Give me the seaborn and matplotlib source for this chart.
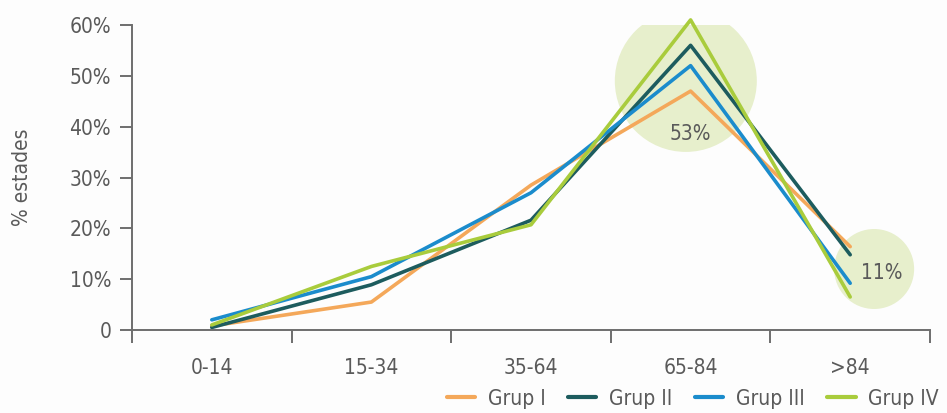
import matplotlib
matplotlib.use("Agg")
import matplotlib.pyplot as plt
from matplotlib.patches import Ellipse
from matplotlib.ticker import FixedLocator
import seaborn as sns
import pandas as pd

# Age bands and share of stays (%) per group
age_bands = ["0-14", "15-34", "35-64", "65-84", ">84"]
grup_i = [0.8, 5.5, 28.5, 47.0, 16.4]
grup_ii = [0.5, 8.9, 21.6, 56.0, 14.8]
grup_iii = [2.0, 10.5, 27.0, 52.0, 9.2]
grup_iv = [1.0, 12.5, 20.7, 61.0, 6.5]
group_names = ["Grup I", "Grup II", "Grup III", "Grup IV"]
highlight_labels = ["53%", "11%"]

colors = ["#f4a85a", "#1d5c5e", "#1b8ccc", "#a9cc3c"]

rows = []
for name, vals in zip(group_names, [grup_i, grup_ii, grup_iii, grup_iv]):
    for i, (band, v) in enumerate(zip(age_bands, vals)):
        rows.append({"pos": i, "band": band, "value": v, "group": name})
df = pd.DataFrame(rows)

sns.set_theme(style="white")
plt.rcParams["font.family"] = ["DejaVu Sans"]
plt.rcParams["font.stretch"] = "condensed"
text_color = "#5a5a5a"
spine_color = "#6e6e6e"

fig = plt.figure(figsize=(9.47, 4.13), dpi=100)
fig.patch.set_facecolor("#fdfdfd")
ax = fig.add_axes([132 / 947, 1 - 330 / 413, (930 - 132) / 947, (330 - 25) / 413])
ax.set_facecolor("#fdfdfd")

# Highlight bubbles behind the lines (sized in pixels, converted to data units)
xpx = (930 - 132) / 5.0   # pixels per category
ypx = (330 - 25) / 60.0   # pixels per percent
ax.add_patch(Ellipse((2.97, 49.0), 2 * 71 / xpx, 2 * 71 / ypx,
                     facecolor="#e7efcc", edgecolor="none", zorder=0))
ax.add_patch(Ellipse((4.15, 12.0), 2 * 40 / xpx, 2 * 40 / ypx,
                     facecolor="#e7efcc", edgecolor="none", zorder=0))

sns.lineplot(data=df, x="pos", y="value", hue="group", palette=colors,
             linewidth=2.6, ax=ax, legend=True, sort=False)
for line in ax.lines:
    line.set_clip_on(False)

ax.text(3.0, 38.5, highlight_labels[0], ha="center", va="center",
        fontsize=15, color=text_color)
ax.text(4.2, 11.2, highlight_labels[1], ha="center", va="center",
        fontsize=15, color=text_color)

ax.set_xlim(-0.5, 4.5)
ax.set_ylim(0, 60)
ax.set_xticks(range(len(age_bands)))
ax.set_xticklabels(age_bands)
ax.xaxis.set_minor_locator(FixedLocator([-0.5, 0.5, 1.5, 2.5, 3.5, 4.5]))
ax.tick_params(axis="x", which="major", length=0, pad=20,
               labelsize=15, labelcolor=text_color)
ax.tick_params(axis="x", which="minor", length=9, width=1.4,
               color=spine_color, direction="out", bottom=True)
ax.set_yticks([0, 10, 20, 30, 40, 50, 60])
ax.set_yticklabels(["0", "10%", "20%", "30%", "40%", "50%", "60%"])
ax.tick_params(axis="y", length=9, width=1.4, color=spine_color,
               direction="out", left=True, labelsize=15,
               labelcolor=text_color, pad=6)
ax.set_xlabel("")
ax.set_ylabel("% estades", fontsize=15, color=text_color, labelpad=27)

for side in ["top", "right"]:
    ax.spines[side].set_visible(False)
for side in ["left", "bottom"]:
    ax.spines[side].set_color(spine_color)
    ax.spines[side].set_linewidth(1.4)

handles, labels = ax.get_legend_handles_labels()
ax.get_legend().remove()
leg = fig.legend(handles, labels, loc="center right",
                 bbox_to_anchor=(1.0, 0.035), ncol=4, frameon=False,
                 fontsize=15, handlelength=1.35, columnspacing=1.1,
                 handletextpad=0.6, borderaxespad=0.0)
for t in leg.get_texts():
    t.set_color(text_color)
for h in leg.legend_handles:
    h.set_linewidth(3)

fig.savefig("out.png", dpi=100, facecolor=fig.get_facecolor())
